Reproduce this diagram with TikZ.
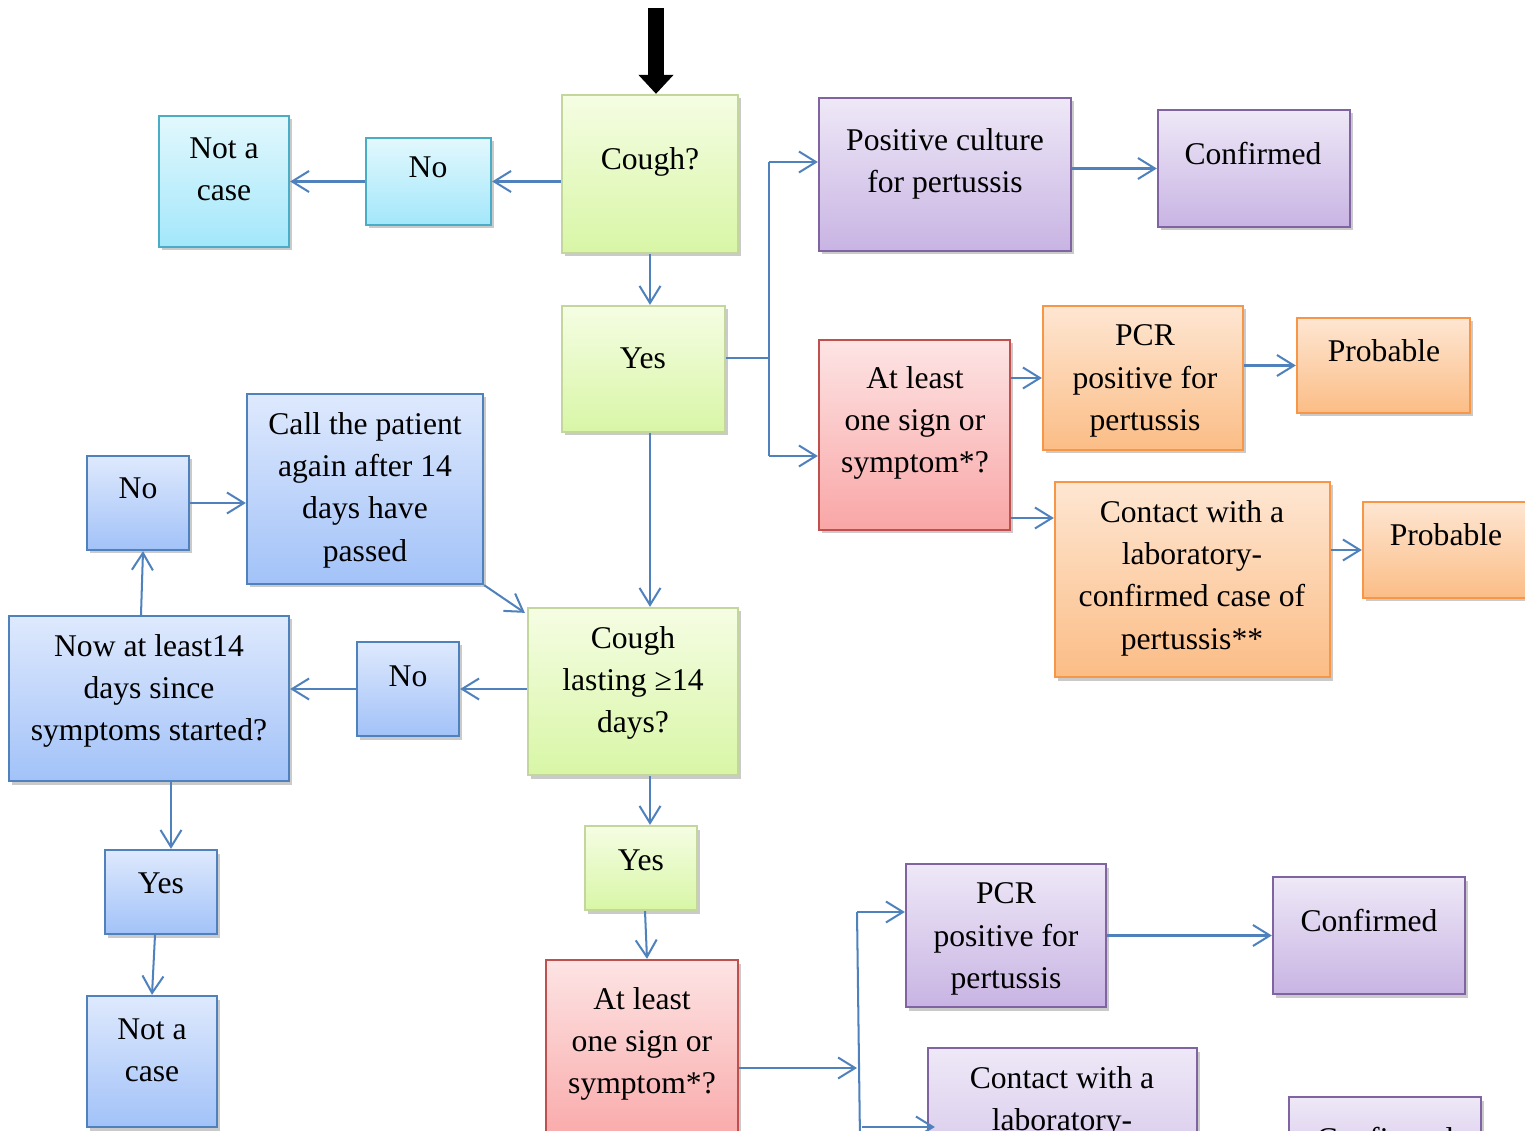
\documentclass[tikz,border=0pt]{standalone}
\usepackage{fontspec}
\setmainfont{Liberation Serif}
\usetikzlibrary{arrows.meta,shadows,calc}
\definecolor{grline}{HTML}{C3D69B}\definecolor{grtop}{HTML}{F5FDE3}\definecolor{grbot}{HTML}{D8F6A6}
\definecolor{cyline}{HTML}{4BACC6}\definecolor{cytop}{HTML}{E2F8FD}\definecolor{cybot}{HTML}{A3E7FB}
\definecolor{puline}{HTML}{8064A2}\definecolor{putop}{HTML}{EEE8F7}\definecolor{pubot}{HTML}{C8B4E3}
\definecolor{rdline}{HTML}{C0504D}\definecolor{rdtop}{HTML}{FDE4E4}\definecolor{rdbot}{HTML}{F9A6A6}
\definecolor{orline}{HTML}{F79646}\definecolor{ortop}{HTML}{FEE6D2}\definecolor{orbot}{HTML}{FBBD86}
\definecolor{blline}{HTML}{4F81BD}\definecolor{bltop}{HTML}{DEE9FD}\definecolor{blbot}{HTML}{A2C2F8}
\definecolor{conn}{HTML}{4F81BD}
\tikzset{
  box/.style={draw=#1line, top color=#1top, bottom color=#1bot, line width=1.3pt, inner sep=0pt,
    drop shadow={shadow xshift=0.06cm, shadow yshift=-0.07cm, opacity=0.35, fill=black!60}},
  sz/.style 2 args={minimum width=#1*0.02cm, minimum height=#2*0.02cm},
  txt/.style={align=center, inner sep=0pt, yshift=-0.06cm, font=\fontsize{18}{24.1}\selectfont},
  arr/.style={draw=conn, line width=1.15pt, -{Straight Barb[length=0.34cm,width=0.42cm]}},
  ln/.style={draw=conn, line width=1.15pt}
}
\begin{document}
\begin{tikzpicture}[x=0.02cm,y=-0.02cm]
\useasboundingbox (0,0) rectangle (1525,1131);
\clip (0,0) rectangle (1525,1131);

% boxes
\node[box=gr, sz={176}{158}] (cough) at (650,174) {};
\node[box=cy, sz={125}{87}] (no1) at (428.5,181.5) {};
\node[box=cy, sz={130}{131}] (nac1) at (224,181.5) {};
\node[box=gr, sz={163}{126}] (yes1) at (643.5,369) {};
\node[box=pu, sz={252}{153}] (pc) at (945,174.5) {};
\node[box=pu, sz={192}{117}] (conf1) at (1254,168.5) {};
\node[box=rd, sz={191}{190}] (al1) at (914.5,435) {};
\node[box=or, sz={200}{144}] (pcr1) at (1143,378) {};
\node[box=or, sz={173}{95}] (prob1) at (1383.5,365.5) {};
\node[box=or, sz={275}{195}] (cont1) at (1192.5,579.5) {};
\node[box=or, sz={172}{96}] (prob2) at (1449,550) {};
\node[box=gr, sz={210}{167}] (cl) at (633,691.5) {};
\node[box=bl, sz={102}{94}] (no2) at (408,689) {};
\node[box=bl, sz={280}{165}] (now) at (149,698.5) {};
\node[box=bl, sz={102}{94}] (no3) at (138,503) {};
\node[box=bl, sz={236}{190}] (call) at (365,489) {};
\node[box=bl, sz={112}{84}] (yes2) at (161,892) {};
\node[box=bl, sz={130}{131}] (nac2) at (152,1061.5) {};
\node[box=gr, sz={112}{84}] (yes3) at (641,868) {};
\node[box=rd, sz={192}{190}] (al2) at (642,1055) {};
\node[box=pu, sz={200}{143}] (pcr2) at (1006,935.5) {};
\node[box=pu, sz={192}{117}] (conf2) at (1369,935.5) {};
\node[box=pu, sz={269}{195}] (cont2) at (1062.5,1145.5) {};
\node[box=pu, sz={192}{117}] (conf3) at (1385,1155.5) {};

% texts
\node[txt] (t-cough) at (650,159) {Cough?};
\node[txt] (t-no1) at (428,164) {No};
\node[txt] (t-nac1) at (224,166) {Not a\\case};
\node[txt] (t-yes1) at (643,355) {Yes};
\node[txt] (t-pc) at (945,161) {Positive culture\\for pertussis};
\node[txt] (t-conf1) at (1253,151) {Confirmed};
\node[txt] (t-al1) at (915,420) {At least\\one sign or\\symptom*?};
\node[txt] (t-pcr1) at (1145,378) {PCR\\positive for\\pertussis};
\node[txt] (t-prob1) at (1384,348) {Probable};
\node[txt] (t-cont1) at (1192,575) {Contact with a\\laboratory-\\confirmed case of\\pertussis**};
\node[txt] (t-prob2) at (1446,532) {Probable};
\node[txt] (t-cl) at (633,680) {Cough\\lasting ≥14\\days?};
\node[txt] (t-no2) at (408,673) {No};
\node[txt] (t-now) at (149,688) {Now at least14\\days since\\symptoms started?};
\node[txt] (t-no3) at (138,485) {No};
\node[txt] (t-call) at (365,487) {Call the patient\\again after 14\\days have\\passed};
\node[txt] (t-yes2) at (161,880) {Yes};
\node[txt] (t-nac2) at (152,1047) {Not a\\case};
\node[txt] (t-yes3) at (641,857) {Yes};
\node[txt] (t-al2) at (642,1041) {At least\\one sign or\\symptom*?};
\node[txt] (t-pcr2) at (1006,936) {PCR\\positive for\\pertussis};
\node[txt] (t-conf2) at (1369,918) {Confirmed};
\node[txt] (t-cont2) at (1062,1099) {Contact with a\\laboratory-};
\node[txt] (t-conf3) at (1385,1136) {Confirmed};

% entry arrow
\coordinate (entry) at (656,8);
\draw[line width=0.32cm, -{Triangle[length=0.38cm,width=0.68cm]}] (entry) -- (entry |- cough.north);

% connectors
\draw[arr] (cough.west |- no1.east) -- (no1.east);
\draw[arr] (no1.west) -- (no1.west -| nac1.east);
\draw[arr] (cough.south) -- (cough.south |- yes1.north);

\coordinate (j1) at (769,358);
\coordinate (j1t) at (769,162);
\coordinate (j1b) at (769,456);
\draw[ln] (yes1.east |- j1) -- (j1);
\draw[ln] (j1t) -- (j1b);
\draw[arr] (j1t) -- (j1t -| pc.west);
\draw[arr] (j1b) -- (j1b -| al1.west);
\draw[arr] (pc.east |- conf1.west) -- (conf1.west);
\draw[arr] (al1.east |- pcr1.west) -- (pcr1.west);
\draw[arr] (pcr1.east |- prob1.west) -- (prob1.west);
\draw[arr] (al1.east |- 0,518) -- (cont1.west |- 0,518);
\draw[arr] (cont1.east |- prob2.west) -- (prob2.west);

\draw[arr] (yes1.south -| cough.south) -- (cl.north -| cough.south);
\draw[arr] (cl.west |- no2.east) -- (no2.east);
\draw[arr] (no2.west) -- (no2.west -| now.east);
\draw[arr] ($(now.north)+(-8,0)$) -- ($(no3.south)+(5,0)$);
\draw[arr] (no3.east) -- (no3.east -| call.west);
\draw[arr] (call.south east) -- ($(cl.north west)+(-2,6)$);
\draw[arr] (now.south -| 171,0) -- (yes2.north -| 171,0);
\draw[arr] ($(yes2.south)+(-6,0)$) -- (nac2.north);

\draw[arr] (cl.south -| cough.south) -- (yes3.north -| cough.south);
\draw[arr] (yes3.south -| 645,0) -- (al2.north -| 647,0);
\coordinate (j2) at (857,1068);
\coordinate (j2t) at (857,912);
\coordinate (j2b) at (860,1140);
\draw[arr] (al2.east |- j2) -- (j2);
\draw[ln] (j2t) -- (j2b);
\draw[arr] (j2t) -- (j2t -| pcr2.west);
\draw[arr] (862,1127) -- ($(cont2.west |- 0,1127)+(8,0)$);
\draw[arr] (pcr2.east |- conf2.west) -- (conf2.west);
\end{tikzpicture}
\end{document}
